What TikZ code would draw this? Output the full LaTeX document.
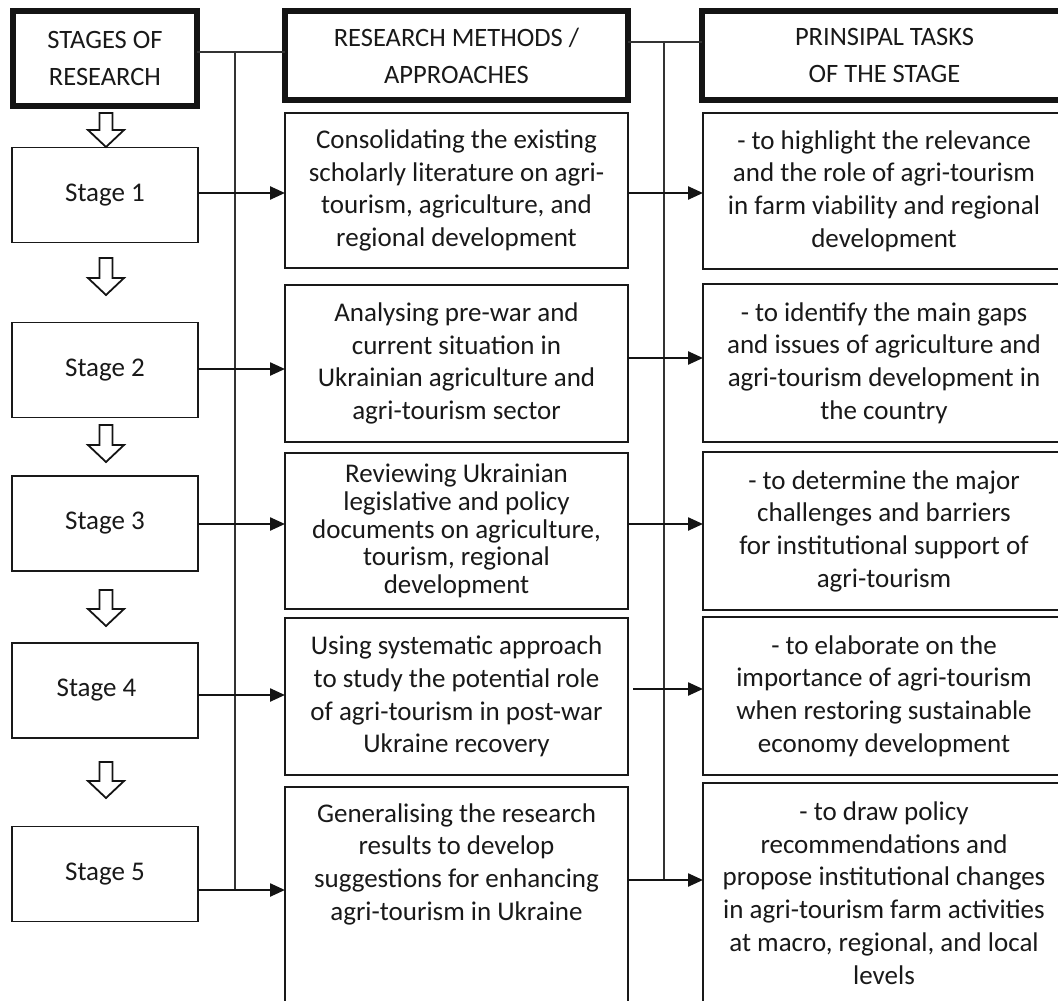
\documentclass[tikz,border=0pt]{standalone}
\usepackage{fontspec}
\setmainfont{Carlito}
\usetikzlibrary{arrows.meta,calc}
\newcommand\hollowarrow[2]{\draw[hollow] (99.5,#1) -- (112.5,#1) -- (112.5,#2-17) -- (124,#2-17) -- (106,#2) -- (88,#2-17) -- (99.5,#2-17) -- cycle;}
\begin{document}
\begin{tikzpicture}[x=1pt,y=-1pt,
  every node/.style={inner sep=0pt,outer sep=0pt,text=black!90},
  txt/.style={font=\fontsize{27}{32.7}\selectfont,align=center},
  tight/.style={font=\fontsize{27}{27.7}\selectfont,align=center},
  headbox/.style={draw=black!92,line width=6pt,align=center,font=\fontsize{26.5}{37}\selectfont},
  stagebox/.style={draw=black!90,line width=1.8pt,minimum width=186,minimum height=95,txt},
  methbox/.style={draw=black!90,line width=1.8pt,minimum width=343,txt},
  taskbox/.style={draw=black!90,line width=1.8pt,minimum width=362,txt},
  bus/.style={draw=black!80,line width=1.3pt},
  flow/.style={draw=black!92,line width=2.4pt,-{Triangle[length=15pt,width=13pt]}},
  hollow/.style={draw=black!92,line width=1.8pt,fill=white,line join=miter},
]
\useasboundingbox (0,0) rectangle (1058,1001);
\clip (0,0) rectangle (1058,1001);

% headers
\node[headbox,minimum width=184,minimum height=95] (h1) at (105,58.5) {STAGES OF\\RESEARCH};
\node[headbox,minimum width=343,minimum height=89] (h2) at (456.5,55.5) {RESEARCH METHODS /\\APPROACHES};
\node[headbox,minimum width=365,minimum height=89] (h3) at (884.5,55.5) {PRINSIPAL TASKS\\OF THE STAGE};

% stages
\node[stagebox] (s1) at (105,195) {Stage 1};
\node[stagebox] (s2) at (105,370) {Stage 2};
\node[stagebox] (s3) at (105,523.5) {Stage 3};
\node[stagebox] (s4) at (105,690.5) {Stage 4\hspace*{17pt}};
\node[stagebox] (s5) at (105,874) {Stage 5};

% methods
\node[methbox,minimum height=155] (m1) at (456.5,190.5) {Consolidating the existing\\scholarly literature on agri-\\tourism, agriculture, and\\regional development};
\node[methbox,minimum height=157] (m2) at (456.5,363.5) {Analysing pre-war and\\current situation in\\Ukrainian agriculture and\\agri-tourism sector};
\node[methbox,minimum height=156,tight] (m3) at (456.5,531) {Reviewing Ukrainian\\legislative and policy\\documents on agriculture,\\tourism, regional\\development};
\node[methbox,minimum height=157] (m4) at (456.5,696.5) {Using systematic approach\\to study the potential role\\of agri-tourism in post-war\\Ukraine recovery};
\node[methbox,minimum height=250,anchor=north] (m5) at (456.5,787) {};
\node[txt] (m5t) at (456.5,864) {Generalising the research\\results to develop\\suggestions for enhancing\\agri-tourism in Ukraine};

% tasks
\node[taskbox,minimum height=156] (t1) at (884,191) {- to highlight the relevance\\and the role of agri-tourism\\in farm viability and regional\\development};
\node[taskbox,minimum height=158] (t2) at (884,363) {- to identify the main gaps\\and issues of agriculture and\\agri-tourism development in\\the country};
\node[taskbox,minimum height=158] (t3) at (884,531) {- to determine the major\\challenges and barriers\\for institutional support of\\agri-tourism};
\node[taskbox,minimum height=158] (t4) at (884,696) {- to elaborate on the\\importance of agri-tourism\\when restoring sustainable\\economy development};
\node[taskbox,minimum height=250,anchor=north] (t5) at (884,783) {};
\node[txt] (t5t) at (884,893) {- to draw policy\\recommendations and\\propose institutional changes\\in agri-tourism farm activities\\at macro, regional, and local\\levels};

% reference coordinates
\coordinate (r1) at (0,52);
\coordinate (r2) at (0,42);
\coordinate (b1top) at (235,52);
\coordinate (b1bot) at (235,890);
\coordinate (b2top) at (664,42);
\coordinate (b2bot) at (664,880);
\coordinate (y1) at (0,193);
\coordinate (y2) at (0,369);
\coordinate (y3) at (0,524);
\coordinate (y4) at (0,695);
\coordinate (y5) at (0,890);
\coordinate (z1) at (0,193);
\coordinate (z2) at (0,358);
\coordinate (z3) at (0,524);
\coordinate (z4) at (0,689);
\coordinate (z5) at (0,880);

% bus lines
\draw[bus] (h1.east |- r1) -- (h2.west |- r1);
\draw[bus] (b1top) -- (b1bot);
\draw[bus] (h2.east |- r2) -- (h3.west |- r2);
\draw[bus] (b2top) -- (b2bot);

% stage -> method arrows
\draw[flow] (s1.east |- y1) -- (m1.west |- y1);
\draw[flow] (s2.east |- y2) -- (m2.west |- y2);
\draw[flow] (s3.east |- y3) -- (m3.west |- y3);
\draw[flow] (s4.east |- y4) -- (m4.west |- y4);
\draw[flow] (s5.east |- y5) -- (m5.west |- y5);

% method -> task arrows
\draw[flow] (m1.east |- z1) -- (t1.west |- z1);
\draw[flow] (m2.east |- z2) -- (t2.west |- z2);
\draw[flow] (m3.east |- z3) -- (t3.west |- z3);
\draw[flow] ($(m4.east |- z4)+(5,0)$) -- (t4.west |- z4);
\draw[flow] (m5.east |- z5) -- (t5.west |- z5);

% hollow stage arrows
\hollowarrow{113}{147}
\hollowarrow{258}{295}
\hollowarrow{425}{462}
\hollowarrow{590}{626}
\hollowarrow{762}{798}
\end{tikzpicture}
\end{document}
